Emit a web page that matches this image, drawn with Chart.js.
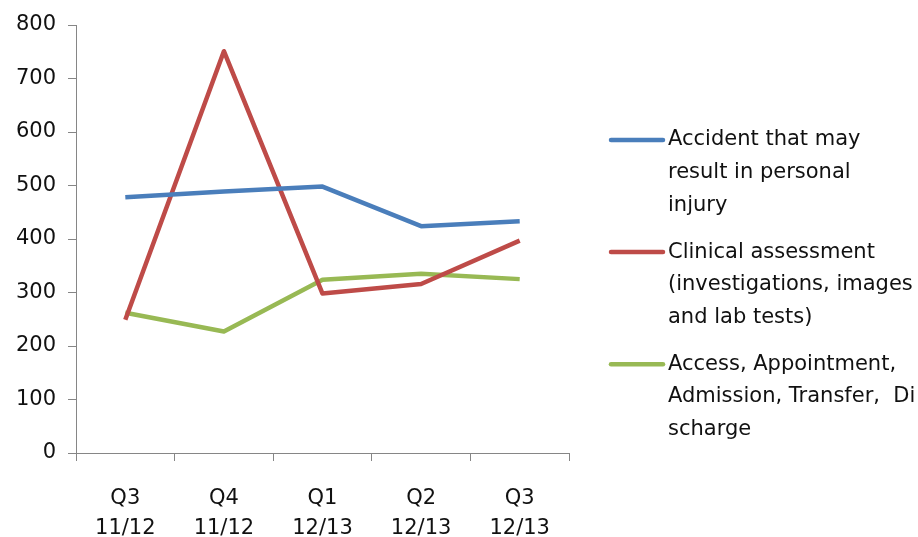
<!DOCTYPE html>
<html>
<head>
<meta charset="utf-8">
<script src="https://cdn.jsdelivr.net/npm/chart.js@4/dist/chart.umd.min.js"></script>
<style>
    html, body { margin: 0; padding: 0; background: #fff; }
    #wrap { width: 918px; height: 537px; }
</style>
</head>
<body>
<div id="wrap"><canvas id="chart" width="918" height="537"></canvas></div>
<script>
const quarters = [['Q3', '11/12'], ['Q4', '11/12'], ['Q1', '12/13'], ['Q2', '12/13'], ['Q3', '12/13']];

const accidentValues = [478, 489, 498, 424, 433];
const clinicalValues = [249, 751, 298, 316, 397];
const accessValues = [262, 227, 324, 335, 325];

const accidentLabel = ['Accident that may', 'result in personal', 'injury'];
const clinicalLabel = ['Clinical assessment', '(investigations, images', 'and lab tests)'];
const accessLabel = ['Access, Appointment,', 'Admission, Transfer,  Di', 'scharge'];

const yTicks = [0, 100, 200, 300, 400, 500, 600, 700, 800];

const fontFamily = '"DejaVu Sans", sans-serif';
const textColor = '#111111';
const axisColor = '#868686';

// legend drawn by hand so the labels can wrap like the original
const sideLegend = {
    id: 'sideLegend',
    afterDraw(chart) {
        const ctx = chart.ctx;
        const lineHeight = 32.7;
        let y = 140;
        ctx.save();
        ctx.font = '21px ' + fontFamily;
        ctx.textBaseline = 'middle';
        ctx.fillStyle = textColor;
        chart.data.datasets.forEach(ds => {
            ctx.strokeStyle = ds.borderColor;
            ctx.lineWidth = 4.5;
            ctx.lineCap = 'round';
            ctx.beginPath();
            ctx.moveTo(611, y);
            ctx.lineTo(663, y);
            ctx.stroke();
            ds.label.forEach((line, i) => {
                ctx.fillText(line, 668, y + i * lineHeight);
            });
            y += lineHeight * 3 + 14;
        });
        ctx.restore();
    }
};

const chartCtx = document.getElementById('chart').getContext('2d');

const series = [
    { label: accidentLabel, data: accidentValues, color: '#4A7EBB' },
    { label: clinicalLabel, data: clinicalValues, color: '#BE4B48' },
    { label: accessLabel, data: accessValues, color: '#98B954' }
];

new Chart(chartCtx, {
    type: 'line',
    data: {
        labels: quarters,
        datasets: series.map(s => ({
            label: s.label,
            data: s.data,
            borderColor: s.color,
            backgroundColor: s.color,
            borderWidth: 4.5,
            borderJoinStyle: 'round',
            pointRadius: 0,
            tension: 0
        }))
    },
    options: {
        responsive: false,
        animation: false,
        layout: {
            padding: { top: 25, right: 349, left: 0, bottom: 0 }
        },
        plugins: {
            legend: { display: false },
            tooltip: { enabled: false }
        },
        scales: {
            x: {
                offset: true,
                grid: {
                    offset: true,
                    drawOnChartArea: false,
                    color: axisColor,
                    tickLength: 8
                },
                border: { color: axisColor, width: 1 },
                ticks: {
                    color: textColor,
                    font: { family: fontFamily, size: 21, lineHeight: 1.43 },
                    padding: 23,
                    maxRotation: 0
                },
                afterFit(scale) { scale.height = 84; }
            },
            y: {
                min: 0,
                max: 800,
                afterBuildTicks(scale) { scale.ticks = yTicks.map(v => ({ value: v })); },
                grid: {
                    drawOnChartArea: false,
                    color: axisColor,
                    tickLength: 8
                },
                border: { color: axisColor, width: 1 },
                ticks: {
                    color: textColor,
                    font: { family: fontFamily, size: 21 },
                    padding: 12
                },
                afterFit(scale) { scale.width = 76; }
            }
        }
    },
    plugins: [sideLegend]
});
</script>
</body>
</html>
